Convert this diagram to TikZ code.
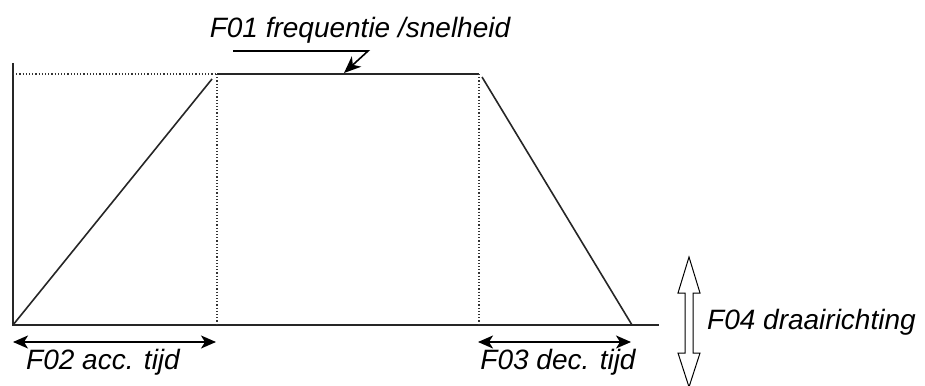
\documentclass[tikz,border=0pt]{standalone}
\usepackage{fontspec}
\setmainfont{Liberation Sans}
\usetikzlibrary{arrows.meta}
\begin{document}
\begin{tikzpicture}[x=1pt,y=-1pt,
  axis/.style={line width=1.8pt,draw=black!85},
  ramp/.style={line width=1.6pt,draw=black!85},
  guide/.style={line width=1.2pt,dotted,draw=black!80},
  dim/.style={line width=1.6pt,{Stealth[length=15pt,width=13pt,inset=4pt]}-{Stealth[length=15pt,width=13pt,inset=4pt]}},
  lbl/.style={font=\fontsize{28}{30}\selectfont\itshape,inner sep=0pt}]
\useasboundingbox (0,0) rectangle (925,385);
% key points
\coordinate (O) at (13,325);
\coordinate (Ytop) at (13,63);
\coordinate (Xend) at (659,325);
\coordinate (A) at (212,79);
\coordinate (At) at (217,74);
\coordinate (Ab) at (217,325);
\coordinate (Lt) at (13,74);
\coordinate (B) at (479,74);
\coordinate (Bb) at (479,325);
\coordinate (Bs) at (482,77);
\coordinate (C) at (632,325);
% axes
\draw[axis] (Ytop) -- (O) -- (Xend);
% profile
\draw[ramp] (O) -- (A);
\draw[ramp] (At) -- (B);
\draw[ramp] (Bs) -- (C);
% guides
\draw[guide] (Lt) -- (At);
\draw[guide] (At) -- (Ab);
\draw[guide] (B) -- (Bb);
% F01
\node[lbl] (f01) at (360,30) {F01 frequentie /snelheid};
\coordinate (p1) at (233,51);
\coordinate (p2) at (368,51);
\coordinate (p3) at (344,73);
\draw[line width=1.6pt,-{Stealth[length=17pt,width=14pt,inset=5pt]}] (p1) -- (p2) -- (p3);
% F02
\coordinate (d1) at (13,342);
\coordinate (d2) at (216,342);
\draw[dim] (d1) -- (d2);
\node[lbl] (f02) at (103,362) {F02 acc. tijd};
% F03
\coordinate (e1) at (478,342);
\coordinate (e2) at (631,342);
\draw[dim] (e1) -- (e2);
\node[lbl] (f03) at (558,362) {F03 dec. tijd};
% F04 double hollow arrow
\draw[line width=1pt,fill=white] (689,257) -- (700,293) -- (693,293) -- (693,353) -- (700,353) -- (689,387)
  -- (678,353) -- (685,353) -- (685,293) -- (678,293) -- cycle;
\node[lbl,anchor=west] (f04) at (707,322) {F04 draairichting};
\end{tikzpicture}
\end{document}
